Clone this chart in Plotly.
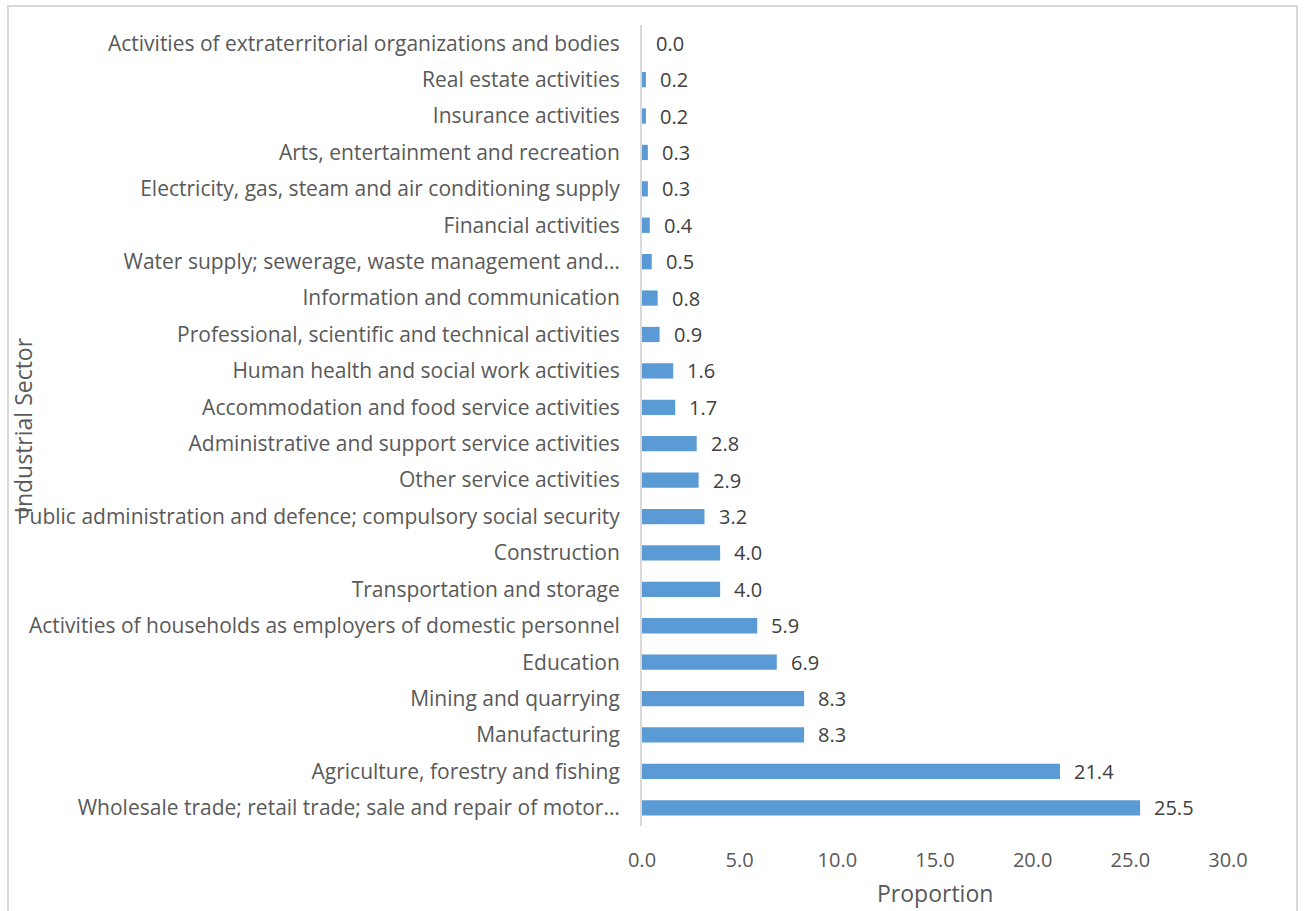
import plotly.graph_objects as go

# Industrial sectors, listed from top of the chart to bottom
sectors = [
    "Activities of extraterritorial organizations and bodies",
    "Real estate activities",
    "Insurance activities",
    "Arts, entertainment and recreation",
    "Electricity, gas, steam and air conditioning supply",
    "Financial activities",
    "Water supply; sewerage, waste management and…",
    "Information and communication",
    "Professional, scientific and technical activities",
    "Human health and social work activities",
    "Accommodation and food service activities",
    "Administrative and support service activities",
    "Other service activities",
    "Public administration and defence; compulsory social security",
    "Construction",
    "Transportation and storage",
    "Activities of households as employers of domestic personnel",
    "Education",
    "Mining and quarrying",
    "Manufacturing",
    "Agriculture, forestry and fishing",
    "Wholesale trade; retail trade; sale and repair of motor…",
]
proportion = [0.0, 0.2, 0.2, 0.3, 0.3, 0.4, 0.5, 0.8, 0.9, 1.6, 1.7, 2.8,
              2.9, 3.2, 4.0, 4.0, 5.9, 6.9, 8.3, 8.3, 21.4, 25.5]
x_ticks = [0, 5, 10, 15, 20, 25, 30]

W, H = 1304, 911
L, R, T, B = 642, 76, 25, 85
pw, ph = W - L - R, H - T - B

BAR = "#5B9BD5"
TXT = "#595959"
FONT = "Open Sans, Calibri, sans-serif"

fig = go.Figure(go.Bar(
    x=proportion, y=sectors, orientation="h",
    marker=dict(color=BAR, line=dict(width=0)),
    hoverinfo="x+y",
))

# value labels to the right of each bar
for s, v in zip(sectors, proportion):
    fig.add_annotation(x=v, y=s, xref="x", yref="y", text=f"{v:.1f}",
                       showarrow=False, xanchor="left", xshift=12,
                       font=dict(family=FONT, size=20, color="#404040"))

def px_x(p):
    return (p - L) / pw

def px_y(p):
    return (H - B - p) / ph

# axis titles
fig.add_annotation(x=px_x(22), y=0.5, xref="paper", yref="paper",
                   text="Industrial Sector", textangle=-90, showarrow=False,
                   xanchor="center", yanchor="middle",
                   font=dict(family=FONT, size=23, color=TXT))
fig.add_annotation(x=0.5, y=px_y(893), xref="paper", yref="paper",
                   text="Proportion", showarrow=False,
                   xanchor="center", yanchor="middle",
                   font=dict(family=FONT, size=23, color=TXT))

# chart frame
fig.add_shape(type="rect", xref="paper", yref="paper",
              x0=px_x(8), x1=px_x(1297), y0=px_y(930), y1=px_y(6),
              line=dict(color="#d9d9d9", width=2), fillcolor="rgba(0,0,0,0)",
              layer="below")

fig.update_layout(
    width=W, height=H,
    margin=dict(l=L, r=R, t=T, b=B, autoexpand=False),
    paper_bgcolor="white", plot_bgcolor="white",
    bargap=0.58, showlegend=False,
    font=dict(family=FONT, color=TXT),
    xaxis=dict(range=[0, 30], tickvals=x_ticks, tickformat=".1f",
               showgrid=False, zeroline=False, showline=False,
               ticks="", ticklabelstandoff=20,
               tickfont=dict(family=FONT, size=20, color=TXT)),
    yaxis=dict(autorange="reversed", showgrid=False, zeroline=False,
               showline=True, linecolor="#d9d9d9", linewidth=2,
               ticks="", ticklabelstandoff=16,
               tickfont=dict(family=FONT, size=21, color=TXT)),
)

fig.write_html("out.html")
